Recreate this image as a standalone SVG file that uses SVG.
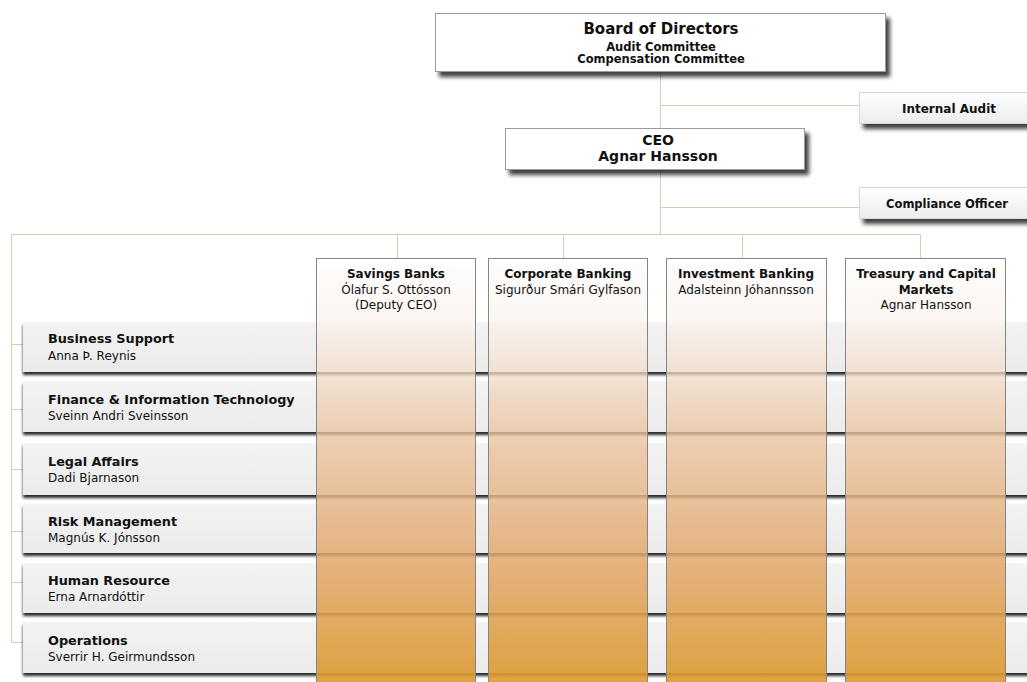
<svg xmlns="http://www.w3.org/2000/svg" width="1027" height="682" viewBox="0 0 1027 682">
<style>
.ln{stroke:#cfcfb4;stroke-width:1;fill:none}
.box{fill:#ffffff;stroke:#9a9a9a;stroke-width:1}
.sbox{fill:url(#sg);stroke:#d8d8d8;stroke-width:1}
.row{fill:url(#rg)}
.col{fill:url(#cg);stroke:#858585;stroke-width:1}
.t{font-family:"DejaVu Sans",Verdana,sans-serif;fill:#111}
.b{font-weight:bold}
.c{text-anchor:middle}
.rt{font-size:12.8px;font-weight:bold}
.rn{font-size:12px}
.ht{font-size:12px;font-weight:bold}
.hn{font-size:12px}
</style>
<defs>
<filter id="sh" x="-5%" y="-20%" width="115%" height="160%">
<feGaussianBlur in="SourceAlpha" stdDeviation="2"/>
<feOffset dx="4" dy="5"/>
<feComponentTransfer><feFuncA type="linear" slope="0.75"/></feComponentTransfer>
<feMerge><feMergeNode/><feMergeNode in="SourceGraphic"/></feMerge>
</filter>
<filter id="rsh" x="-2%" y="-20%" width="104%" height="150%">
<feGaussianBlur in="SourceAlpha" stdDeviation="1.5"/>
<feOffset dx="0" dy="3"/>
<feComponentTransfer><feFuncA type="linear" slope="0.85"/></feComponentTransfer>
<feMerge><feMergeNode/><feMergeNode in="SourceGraphic"/></feMerge>
</filter>
<linearGradient id="sg" x1="0" y1="0" x2="0" y2="1">
<stop offset="0" stop-color="#ffffff"/><stop offset="1" stop-color="#ececec"/>
</linearGradient>
<linearGradient id="rg" x1="0" y1="0" x2="0" y2="1">
<stop offset="0" stop-color="#f3f3f3"/><stop offset="1" stop-color="#ebebeb"/>
</linearGradient>
<linearGradient id="cg" gradientUnits="userSpaceOnUse" x1="0" y1="258" x2="0" y2="682">
<stop offset="0" stop-color="#ffffff" stop-opacity="0.97"/>
<stop offset="0.15" stop-color="#faf2ec" stop-opacity="0.72"/>
<stop offset="0.4" stop-color="#ecc6a4" stop-opacity="0.78"/>
<stop offset="0.7" stop-color="#e2a86e" stop-opacity="0.85"/>
<stop offset="1" stop-color="#dc9a30" stop-opacity="0.92"/>
</linearGradient>
</defs>

<g id="connectors">
<line class="ln" x1="660.5" y1="72" x2="660.5" y2="234.5"/>
<line class="ln" x1="660.5" y1="105.5" x2="859" y2="105.5"/>
<line class="ln" x1="660.5" y1="207.5" x2="859" y2="207.5"/>
<line class="ln" x1="11.5" y1="234.5" x2="920.5" y2="234.5"/>
<line class="ln" x1="397.5" y1="234.5" x2="397.5" y2="258"/>
<line class="ln" x1="563.5" y1="234.5" x2="563.5" y2="258"/>
<line class="ln" x1="742.5" y1="234.5" x2="742.5" y2="258"/>
<line class="ln" x1="920.5" y1="234.5" x2="920.5" y2="258"/>
<line class="ln" x1="11.5" y1="234.5" x2="11.5" y2="642.5"/>
<line class="ln" x1="11.5" y1="344.5" x2="23" y2="344.5"/>
<line class="ln" x1="11.5" y1="409.5" x2="23" y2="409.5"/>
<line class="ln" x1="11.5" y1="469.5" x2="23" y2="469.5"/>
<line class="ln" x1="11.5" y1="531.5" x2="23" y2="531.5"/>
<line class="ln" x1="11.5" y1="582.5" x2="23" y2="582.5"/>
<line class="ln" x1="11.5" y1="642.5" x2="23" y2="642.5"/>
</g>

<g id="board">
<rect class="box" x="435.5" y="13.5" width="450" height="58" filter="url(#sh)"/>
<text class="t b c" x="661" y="34" font-size="15">Board of Directors</text>
<text class="t b c" x="661" y="51" font-size="11.5">Audit Committee</text>
<text class="t b c" x="661" y="63" font-size="11.5">Compensation Committee</text>
</g>

<g id="internal-audit">
<rect class="sbox" x="859.5" y="92.5" width="180" height="31" filter="url(#sh)"/>
<text class="t b c" x="949" y="113" font-size="12">Internal Audit</text>
</g>

<g id="ceo">
<rect class="box" x="505.5" y="128.5" width="299" height="41" filter="url(#sh)"/>
<text class="t b c" x="658" y="145" font-size="14">CEO</text>
<text class="t b c" x="658" y="161" font-size="14">Agnar Hansson</text>
</g>

<g id="compliance-officer">
<rect class="sbox" x="859.5" y="187.5" width="180" height="31" filter="url(#sh)"/>
<text class="t b c" x="947" y="208" font-size="11.5">Compliance Officer</text>
</g>

<g id="rows">
<g id="business-support">
<rect class="row" x="23" y="322" width="1010" height="50" filter="url(#rsh)"/>
<text class="t rt" x="48" y="343">Business Support</text>
<text class="t rn" x="48" y="360">Anna Þ. Reynis</text>
</g>
<g id="finance-it">
<rect class="row" x="23" y="381" width="1010" height="51" filter="url(#rsh)"/>
<text class="t rt" x="48" y="404">Finance &amp; Information Technology</text>
<text class="t rn" x="48" y="420">Sveinn Andri Sveinsson</text>
</g>
<g id="legal-affairs">
<rect class="row" x="23" y="443" width="1010" height="52" filter="url(#rsh)"/>
<text class="t rt" x="48" y="466">Legal Affairs</text>
<text class="t rn" x="48" y="482">Dadi Bjarnason</text>
</g>
<g id="risk-management">
<rect class="row" x="23" y="504" width="1010" height="49" filter="url(#rsh)"/>
<text class="t rt" x="48" y="526">Risk Management</text>
<text class="t rn" x="48" y="542">Magnús K. Jónsson</text>
</g>
<g id="human-resource">
<rect class="row" x="23" y="563" width="1010" height="50" filter="url(#rsh)"/>
<text class="t rt" x="48" y="585">Human Resource</text>
<text class="t rn" x="48" y="601">Erna Arnardóttir</text>
</g>
<g id="operations">
<rect class="row" x="23" y="622" width="1010" height="51" filter="url(#rsh)"/>
<text class="t rt" x="48" y="645">Operations</text>
<text class="t rn" x="48" y="661">Sverrir H. Geirmundsson</text>
</g>
</g>

<g id="columns">
<g id="savings-banks">
<rect class="col" x="316.5" y="258.5" width="159" height="430"/>
<text class="t ht c" x="396" y="278">Savings Banks</text>
<text class="t hn c" x="396" y="294">Ólafur S. Ottósson</text>
<text class="t hn c" x="396" y="309">(Deputy CEO)</text>
</g>
<g id="corporate-banking">
<rect class="col" x="488.5" y="258.5" width="159" height="430"/>
<text class="t ht c" x="568" y="278">Corporate Banking</text>
<text class="t hn c" x="568" y="294">Sigurður Smári Gylfason</text>
</g>
<g id="investment-banking">
<rect class="col" x="666.5" y="258.5" width="160" height="430"/>
<text class="t ht c" x="746" y="278">Investment Banking</text>
<text class="t hn c" x="746" y="294">Adalsteinn Jóhannsson</text>
</g>
<g id="treasury">
<rect class="col" x="845.5" y="258.5" width="160" height="430"/>
<text class="t ht c" x="926" y="278">Treasury and Capital</text>
<text class="t ht c" x="926" y="294">Markets</text>
<text class="t hn c" x="926" y="309">Agnar Hansson</text>
</g>
</g>
</svg>
